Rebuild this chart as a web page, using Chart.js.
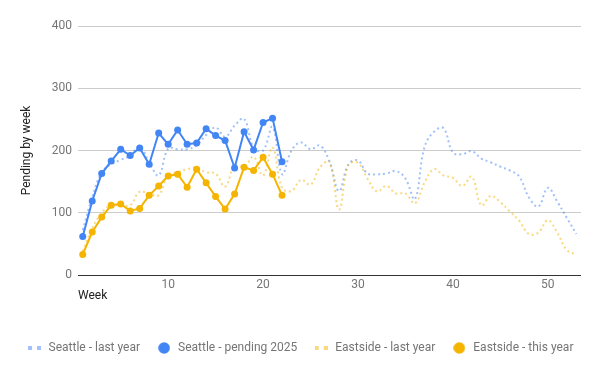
<!DOCTYPE html>
<html><head><meta charset="utf-8">
<script src="https://cdn.jsdelivr.net/npm/chart.js@4.4.1/dist/chart.umd.min.js"></script>
<style>html,body{margin:0;padding:0;background:#fff;}#wrap{width:600px;height:371px;}</style>
</head><body><div id="wrap"><canvas id="c" width="600" height="371"></canvas></div>
<script>
const weeks = [1,2,3,4,5,6,7,8,9,10,11,12,13,14,15,16,17,18,19,20,21,22,23,24,25,26,27,28,29,30,31,32,33,34,35,36,37,38,39,40,41,42,43,44,45,46,47,48,49,50,51,52,53];
const xTickLabels = [10,20,30,40,50];
const yTickLabels = [0,100,200,300,400];
const seriesNames = ['Seattle - last year','Seattle - pending 2025','Eastside - last year','Eastside - this year'];
const seattleLastYear = [72,125,165,178,185,192,206,181,160,203,202,202,208,225,237,222,240,251,205,200,238,162,200,213,202,208,182,135,178,184,163,162,163,167,155,122,205,230,236,197,194,199,187,181,174,168,158,125,110,140,118,92,66];
const seattlePending2025 = [62,119,163,183,202,192,204,178,228,210,233,210,212,235,224,216,172,230,201,245,252,182];
const eastsideLastYear = [38,75,100,112,113,112,134,130,128,160,165,170,172,165,163,142,176,174,190,160,205,140,135,153,145,173,182,105,177,180,155,134,143,131,131,115,148,170,160,156,143,158,112,127,117,102,87,66,68,88,68,40,33];
const eastsideThisYear = [33,69,93,112,114,103,107,128,143,159,162,141,170,148,126,106,130,173,168,189,162,128];

const BLUE = '#4285F4', YELLOW = '#F4B400';
const BLUE_LIGHT = 'rgba(66,133,244,0.5)', YELLOW_LIGHT = 'rgba(244,180,0,0.5)';

function dotsMarker(color){
  const c = document.createElement('canvas'); c.width = 13; c.height = 4;
  const g = c.getContext('2d'); g.fillStyle = color; g.fillRect(0,0,4,4); g.fillRect(9,0,4,4);
  return c;
}
function circleMarker(color){
  const c = document.createElement('canvas'); c.width = 12; c.height = 12;
  const g = c.getContext('2d'); g.fillStyle = color; g.beginPath(); g.arc(6,6,5.8,0,Math.PI*2); g.fill();
  return c;
}
const markers = [dotsMarker(BLUE_LIGHT), circleMarker(BLUE), dotsMarker(YELLOW_LIGHT), circleMarker(YELLOW)];

Chart.defaults.font.family = 'Roboto';
Chart.defaults.font.size = 12;

new Chart(document.getElementById('c'), {
  type: 'line',
  data: {
    labels: weeks,
    datasets: [
      {label: seriesNames[0], data: seattleLastYear, borderColor: BLUE_LIGHT, backgroundColor: BLUE_LIGHT, borderWidth: 2, borderDash: [2,3], pointRadius: 0, tension: 0.4, order: 3, fill: false},
      {label: seriesNames[1], data: seattlePending2025, borderColor: BLUE, backgroundColor: BLUE, pointBackgroundColor: BLUE, borderWidth: 2, pointRadius: 3.5, pointBorderWidth: 0, tension: 0, order: 1, fill: false},
      {label: seriesNames[2], data: eastsideLastYear, borderColor: YELLOW_LIGHT, backgroundColor: YELLOW_LIGHT, borderWidth: 2, borderDash: [2,3], pointRadius: 0, tension: 0.4, order: 2, fill: false},
      {label: seriesNames[3], data: eastsideThisYear, borderColor: YELLOW, backgroundColor: YELLOW, pointBackgroundColor: YELLOW, borderWidth: 2, pointRadius: 3.5, pointBorderWidth: 0, tension: 0, order: 0, fill: false}
    ]
  },
  options: {
    responsive: false,
    animation: false,
    layout: {padding: {left: 0, right: 0, top: 26, bottom: 7}},
    scales: {
      x: {
        type: 'linear', min: 0.5, max: 53.5,
        grid: {display: false, drawTicks: false}, border: {display: false},
        ticks: {color: '#757575', padding: 3, maxRotation: 0, autoSkip: false},
        afterBuildTicks: a => { a.ticks = xTickLabels.map(v => ({value: v})); },
        afterFit: a => { a.height = 51; },
        title: {display: true, text: 'Week', align: 'start', color: '#222', padding: {top: 0, bottom: 23}}
      },
      y: {
        min: 0, max: 400,
        ticks: {stepSize: 100, color: '#757575', padding: 6},
        afterBuildTicks: a => { a.ticks = yTickLabels.map(v => ({value: v})); },
        grid: {color: c => (c.tick && c.tick.value === 0) ? '#333' : '#ccc', drawTicks: false, lineWidth: 1},
        border: {display: false},
        afterFit: a => { a.width = 78; },
        title: {display: true, text: 'Pending by week', color: '#222', padding: {top: 20, bottom: 0}}
      },
      yRight: {
        position: 'right', min: 0, max: 400,
        ticks: {display: false}, grid: {display: false, drawTicks: false}, border: {display: false},
        afterFit: a => { a.width = 19; }
      }
    },
    plugins: {
      tooltip: {enabled: false},
      legend: {
        position: 'bottom',
        labels: {
          usePointStyle: true, pointStyleWidth: 16, boxHeight: 12, padding: 16, color: '#757575',
          generateLabels: chart => chart.data.datasets.map((ds, i) => ({
            text: ds.label, datasetIndex: i, pointStyle: markers[i],
            fillStyle: ds.borderColor, strokeStyle: 'rgba(0,0,0,0)', lineWidth: 0, hidden: false, fontColor: '#757575'
          })),
          sort: (a, b) => a.datasetIndex - b.datasetIndex
        }
      }
    }
  }
});
</script>
</body></html>
